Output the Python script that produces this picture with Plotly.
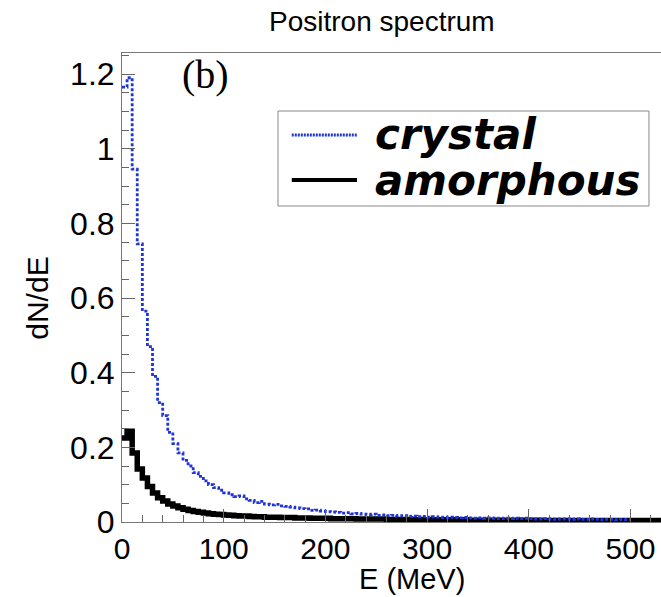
import numpy as np
import plotly.graph_objects as go

bin_width = 5  # MeV

crystal = [
    1.165, 1.190, 0.945, 0.745, 0.565, 0.470, 0.390, 0.320, 0.285, 0.240,
    0.210, 0.185, 0.165, 0.150, 0.132, 0.122, 0.110, 0.100, 0.092, 0.085,
    0.078, 0.073, 0.068, 0.070, 0.062, 0.058, 0.052, 0.055, 0.048, 0.046,
    0.047, 0.043, 0.042, 0.040, 0.038, 0.036, 0.035, 0.031, 0.032, 0.029,
    0.028, 0.027, 0.026, 0.024, 0.025, 0.022, 0.023, 0.021, 0.020, 0.021,
    0.018, 0.019, 0.017, 0.018, 0.016, 0.017, 0.015, 0.016, 0.014, 0.015,
    0.013, 0.014, 0.013, 0.012, 0.013, 0.012, 0.011, 0.012, 0.011, 0.010,
    0.011, 0.010, 0.011, 0.010, 0.009, 0.010, 0.009, 0.010, 0.009, 0.010,
    0.009, 0.008, 0.008, 0.009, 0.008, 0.007, 0.008, 0.008, 0.007, 0.008,
    0.007, 0.007, 0.008, 0.007, 0.006, 0.007, 0.007, 0.006, 0.007, 0.006,
]

amorphous = [
    0.225, 0.243, 0.185, 0.142, 0.118, 0.095, 0.078, 0.065, 0.056, 0.048,
    0.043, 0.038, 0.034, 0.031, 0.028, 0.026, 0.024, 0.022, 0.021, 0.020,
    0.019, 0.018, 0.017, 0.016, 0.016, 0.015, 0.014, 0.014, 0.013, 0.013,
    0.013, 0.012, 0.012, 0.012, 0.011, 0.011, 0.011, 0.010, 0.010, 0.010,
    0.010, 0.009, 0.009, 0.009, 0.009, 0.009, 0.008, 0.008, 0.008, 0.008,
    0.008, 0.008, 0.007, 0.007, 0.007, 0.007, 0.007, 0.007, 0.007, 0.006,
    0.006, 0.006, 0.006, 0.006, 0.006, 0.006, 0.006, 0.006, 0.005, 0.005,
    0.005, 0.005, 0.005, 0.005, 0.005, 0.005, 0.005, 0.005, 0.005, 0.005,
    0.005, 0.005, 0.004, 0.004, 0.004, 0.004, 0.004, 0.004, 0.004, 0.004,
    0.004, 0.004, 0.004, 0.004, 0.004, 0.004, 0.004, 0.004, 0.004, 0.004,
    0.004, 0.004, 0.004, 0.004, 0.004, 0.004,
]

y_ticks = [0, 0.2, 0.4, 0.6, 0.8, 1.0, 1.2]
y_tick_labels = ["0", "0.2", "0.4", "0.6", "0.8", "1", "1.2"]
x_ticks = [0, 100, 200, 300, 400, 500]
x_tick_labels = ["0", "100", "200", "300", "400", "500"]


def step_xy(values):
    edges = np.arange(len(values) + 1) * bin_width
    return list(edges), list(values) + [values[-1]]


fig = go.Figure()
ax, ay = step_xy(amorphous)
fig.add_trace(go.Scatter(x=ax, y=ay, mode="lines", line_shape="hv",
                         line=dict(color="black", width=5.5), showlegend=False))
cx, cy = step_xy(crystal)
fig.add_trace(go.Scatter(x=cx, y=cy, mode="lines", line_shape="hv",
                         line=dict(color="#1f35d8", width=2.8, dash="3px,2px"),
                         showlegend=False))

sans = "Liberation Sans, Arial, sans-serif"
fig.update_layout(
    width=661, height=597,
    margin=dict(l=122, r=0, t=53, b=75),
    paper_bgcolor="white", plot_bgcolor="white",
    xaxis=dict(range=[0, 530], tickvals=x_ticks, ticktext=x_tick_labels,
               ticks="inside", ticklen=13, tickcolor="#666", tickwidth=1,
               minor=dict(dtick=20, ticks="inside", ticklen=7, tickcolor="#666"),
               showline=True, linecolor="#777", linewidth=1, mirror=True,
               showgrid=False, zeroline=False,
               tickfont=dict(family=sans, size=30, color="black")),
    yaxis=dict(range=[0, 1.2563], tickvals=y_ticks, ticktext=y_tick_labels,
               ticks="inside", ticklen=13, tickcolor="#666", tickwidth=1,
               minor=dict(dtick=0.05, ticks="inside", ticklen=7, tickcolor="#666"),
               showline=True, linecolor="#777", linewidth=1, mirror=False,
               showgrid=False, zeroline=False,
               tickfont=dict(family=sans, size=32, color="black")),
)

# paper-y helper values for a plot area spanning pixel rows 53..522
fig.add_annotation(text="Positron spectrum", xref="paper", yref="paper",
                   x=0.482, y=1.0661, showarrow=False, xanchor="center", yanchor="middle",
                   font=dict(size=28, family=sans, color="black"))
fig.add_annotation(text="E (MeV)", xref="paper", yref="paper",
                   x=0.538, y=-0.1599, showarrow=False, xanchor="center", yanchor="bottom",
                   font=dict(size=29, family=sans, color="black"))
fig.add_annotation(text="dN/dE", xref="paper", yref="paper", textangle=-90,
                   x=-0.156, y=0.478, showarrow=False, xanchor="center", yanchor="middle",
                   font=dict(size=30, family=sans, color="black"))
fig.add_annotation(text="(b)", xref="paper", yref="paper",
                   x=0.154, y=0.9531, showarrow=False, xanchor="center", yanchor="middle",
                   font=dict(size=40, family="Liberation Serif, Times New Roman, serif", color="black"))

# legend box
fig.add_shape(type="rect", xref="paper", yref="paper", x0=0.2894, x1=0.9777, y0=0.6738, y1=0.8763,
              line=dict(color="#888", width=1), fillcolor="white", layer="above")
fig.add_shape(type="line", xref="paper", yref="paper", x0=0.315, x1=0.436, y0=0.8252, y1=0.8252,
              line=dict(color="#1f35d8", width=3, dash="2px,1px"), layer="above")
fig.add_shape(type="line", xref="paper", yref="paper", x0=0.315, x1=0.436, y0=0.7292, y1=0.7292,
              line=dict(color="black", width=4), layer="above")
leg_font = dict(family="DejaVu Sans, sans-serif", size=42, color="black")
fig.add_annotation(text="<b><i>crystal</i></b>", xref="paper", yref="paper",
                   x=0.466, y=0.8252, showarrow=False, xanchor="left", yanchor="middle", font=leg_font)
fig.add_annotation(text="<b><i>amorphous</i></b>", xref="paper", yref="paper",
                   x=0.466, y=0.7292, showarrow=False, xanchor="left", yanchor="middle", font=leg_font)

fig.write_html("out.html")
